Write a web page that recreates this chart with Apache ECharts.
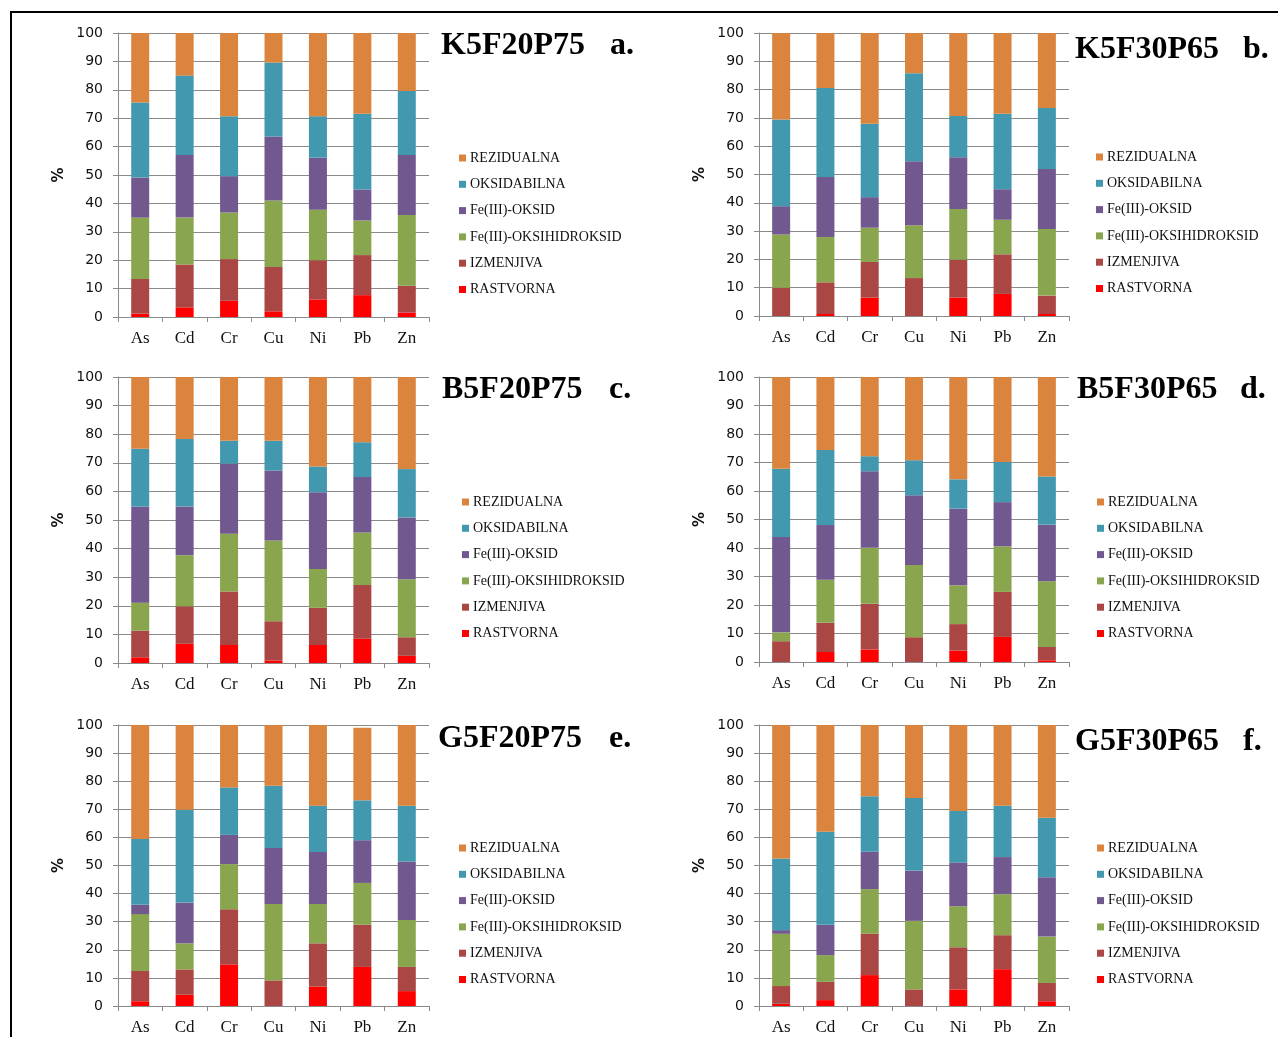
<!DOCTYPE html>
<html>
<head>
<meta charset="utf-8">
<title>Frakcije teških metala</title>
<script src="https://cdn.jsdelivr.net/npm/echarts@6/dist/echarts.min.js"></script>
<style>
  html, body { margin: 0; padding: 0; background: #fff; overflow: hidden; }
  #frame { position: absolute; left: 10px; top: 11px; width: 1400px; height: 1200px;
           border-top: 2px solid #000; border-left: 2px solid #000; }
  #chart { position: absolute; left: 0; top: 0; width: 1278px; height: 1037px; }
</style>
</head>
<body>
<div id="frame"></div>
<div id="chart"></div>
<script>
// Metals on the category axis
const metals = ['As', 'Cd', 'Cr', 'Cu', 'Ni', 'Pb', 'Zn'];

// Fractions, stacked from the bottom up
const fractions = ['RASTVORNA', 'IZMENJIVA', 'Fe(III)-OKSIHIDROKSID', 'Fe(III)-OKSID', 'OKSIDABILNA', 'REZIDUALNA'];
const fractionColors = ['#FF0000', '#AA4643', '#89A54E', '#71588F', '#4198AF', '#DB843D'];

// Legend lists the fractions from the top of the stack down
const legendOrder = fractions.slice().reverse();

// Percentages per fraction (rows follow `fractions`, columns follow `metals`)
const K5F20P75 = [
  [1.2, 3.4, 5.7, 2.0, 6.2, 7.7, 1.6],
  [12.2, 15.1, 14.7, 15.6, 13.8, 14.1, 9.4],
  [21.6, 16.5, 16.4, 23.4, 17.8, 12.2, 24.9],
  [14.1, 22.0, 12.8, 22.6, 18.3, 10.9, 21.1],
  [26.4, 28.0, 21.1, 26.0, 14.6, 26.7, 22.6],
  [24.5, 15.0, 29.3, 10.4, 29.3, 28.4, 20.4]
];
const K5F30P65 = [
  [0, 0.7, 6.5, 0, 6.5, 7.8, 0.7],
  [10.0, 11.2, 12.6, 13.4, 13.4, 14.0, 6.5],
  [18.8, 16.0, 12.1, 18.7, 17.9, 12.2, 23.5],
  [10.0, 21.2, 10.8, 22.6, 18.3, 10.8, 21.2],
  [30.6, 31.5, 25.9, 31.1, 14.6, 26.7, 21.6],
  [30.6, 19.4, 32.1, 14.2, 29.3, 28.5, 26.5]
];
const B5F20P75 = [
  [2.0, 6.7, 6.3, 0.9, 6.3, 8.5, 2.5],
  [9.3, 13.1, 18.7, 13.7, 13.0, 18.8, 6.5],
  [9.8, 17.9, 20.2, 28.2, 13.6, 18.3, 20.3],
  [33.6, 17.0, 24.5, 24.5, 26.8, 19.4, 21.6],
  [20.2, 23.6, 8.0, 10.4, 9.0, 12.2, 16.9],
  [25.1, 21.7, 22.3, 22.3, 31.3, 22.8, 32.2]
];
const B5F30P65 = [
  [0, 3.5, 4.4, 0, 4.0, 8.8, 0.6],
  [7.3, 10.3, 16.0, 8.7, 9.3, 15.8, 4.7],
  [3.1, 15.1, 19.7, 25.3, 13.6, 16.0, 23.0],
  [33.5, 19.2, 26.8, 24.5, 26.9, 15.5, 19.9],
  [23.9, 26.3, 5.3, 12.3, 10.3, 14.1, 16.9],
  [32.2, 25.6, 27.8, 29.2, 35.9, 29.8, 34.9]
];
const G5F20P75 = [
  [1.7, 4.0, 14.8, 0, 6.9, 13.9, 5.3],
  [10.8, 9.0, 19.6, 9.1, 15.4, 15.0, 8.6],
  [20.2, 9.3, 16.1, 27.2, 14.0, 14.9, 16.7],
  [3.3, 14.5, 10.4, 19.9, 18.5, 15.2, 20.8],
  [23.4, 33.0, 16.9, 22.2, 16.5, 14.2, 19.9],
  [40.6, 30.2, 22.2, 21.6, 28.7, 25.8, 28.7]
];
const G5F30P65 = [
  [0.8, 2.1, 11.0, 0, 5.9, 13.1, 1.7],
  [6.3, 6.5, 14.7, 5.9, 15.0, 12.1, 6.5],
  [18.6, 9.5, 15.9, 24.4, 14.6, 14.6, 16.5],
  [1.3, 10.8, 13.3, 17.9, 15.6, 13.2, 21.1],
  [25.5, 33.1, 19.7, 25.8, 18.3, 18.3, 21.2],
  [47.5, 38.0, 25.4, 26.0, 30.6, 28.7, 33.0]
];

// Panel titles and their letters
const panelNames = ['K5F20P75', 'K5F30P65', 'B5F20P75', 'B5F30P65', 'G5F20P75', 'G5F30P65'];
const panelLetters = ['a.', 'b.', 'c.', 'd.', 'e.', 'f.'];
const panelData = [K5F20P75, K5F30P65, B5F20P75, B5F30P65, G5F20P75, G5F30P65];
const yTicks = { min: 0, max: 100, step: 10 };

// Page layout of each panel: plot box, title, letter and legend anchors
const layout = [
  { grid: [118, 33, 311, 284], title: [441, 46], letter: [610, 46], legend: [459, 151] },
  { grid: [759, 33, 310, 283], title: [1075, 50], letter: [1243, 50], legend: [1096, 150] },
  { grid: [118, 377, 311, 286], title: [442, 390], letter: [609, 390], legend: [462, 495] },
  { grid: [759, 377, 310, 285], title: [1077, 390], letter: [1240, 390], legend: [1097, 495] },
  { grid: [118, 725, 311, 281], title: [438, 739], letter: [609, 739], legend: [459, 841] },
  { grid: [759, 725, 310, 281], title: [1075, 742], letter: [1243, 742], legend: [1097, 841] }
];

const axisGray = '#8a8a8a';
const grids = [], xAxes = [], yAxes = [], legends = [], series = [], graphics = [];

layout.forEach((L, p) => {
  const [gx, gy, gw, gh] = L.grid;
  grids.push({ left: gx, top: gy, width: gw, height: gh, containLabel: false });

  xAxes.push({
    type: 'category', gridIndex: p, data: metals,
    axisLine: { show: true, lineStyle: { color: axisGray, width: 1 } },
    axisTick: { show: true, length: 5, alignWithLabel: false, lineStyle: { color: axisGray } },
    axisLabel: { fontFamily: 'Liberation Serif', fontSize: 17, color: '#111', margin: 13 },
    splitLine: { show: false }
  });

  yAxes.push({
    type: 'value', gridIndex: p, min: yTicks.min, max: yTicks.max, interval: yTicks.step,
    name: '%', nameLocation: 'middle', nameGap: 51, nameRotate: 90,
    nameTextStyle: { fontFamily: 'DejaVu Sans', fontWeight: 'bold', fontSize: 15, color: '#111' },
    axisLine: { show: true, lineStyle: { color: axisGray, width: 1 } },
    axisTick: { show: true, length: 5, lineStyle: { color: axisGray } },
    axisLabel: { fontFamily: 'DejaVu Sans', fontSize: 14, color: '#111', margin: 15 },
    splitLine: { show: true, lineStyle: { color: axisGray, width: 1 } }
  });

  legends.push({
    data: legendOrder, orient: 'vertical', left: L.legend[0], top: L.legend[1],
    icon: 'rect', itemWidth: 7, itemHeight: 7, itemGap: 12.3, padding: 0,
    selectedMode: false,
    textStyle: { fontFamily: 'Liberation Serif', fontSize: 14, color: '#111', padding: [0, 0, 0, -1] }
  });

  fractions.forEach((f, k) => {
    series.push({
      type: 'bar', name: f, stack: 'panel' + p,
      xAxisIndex: p, yAxisIndex: p,
      barWidth: 18,
      itemStyle: { color: fractionColors[k] },
      data: panelData[p][k]
    });
  });

  graphics.push({
    type: 'text', x: L.title[0], y: L.title[1],
    style: { text: panelNames[p], font: 'bold 32px "Liberation Serif"', fill: '#000', textVerticalAlign: 'middle' }
  });
  graphics.push({
    type: 'text', x: L.letter[0], y: L.letter[1],
    style: { text: panelLetters[p], font: 'bold 32px "Liberation Serif"', fill: '#000', textVerticalAlign: 'middle' }
  });
});

const chart = echarts.init(document.getElementById('chart'), null, { renderer: 'canvas' });
chart.setOption({
  animation: false,
  backgroundColor: 'transparent',
  grid: grids,
  xAxis: xAxes,
  yAxis: yAxes,
  legend: legends,
  series: series,
  graphic: graphics
});
</script>
</body>
</html>
